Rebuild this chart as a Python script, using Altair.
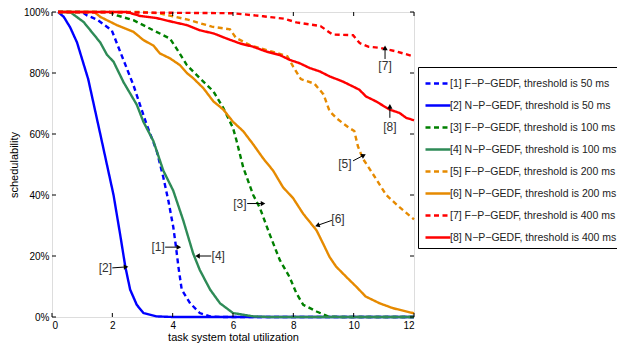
import math
import altair as alt
import pandas as pd

# ---------------- data ----------------
labels = [
    "[1] F\u2212P\u2212GEDF, threshold is 50 ms",
    "[2] N\u2212P\u2212GEDF, threshold is 50 ms",
    "[3] F\u2212P\u2212GEDF, threshold is 100 ms",
    "[4] N\u2212P\u2212GEDF, threshold is 100 ms",
    "[5] F\u2212P\u2212GEDF, threshold is 200 ms",
    "[6] N\u2212P\u2212GEDF, threshold is 200 ms",
    "[7] F\u2212P\u2212GEDF, threshold is 400 ms",
    "[8] N\u2212P\u2212GEDF, threshold is 400 ms",
]
colors = ["#0000FF", "#0000FF", "#008000", "#2E8B57", "#E68A00", "#E68A00", "#FF0000", "#FF0000"]
dashes = [[5, 3.5], [1, 0], [5, 3.5], [1, 0], [5, 3.5], [1, 0], [5, 3.5], [1, 0]]

s1_x = [0.2, 1.0, 1.16, 1.5, 1.98, 2.26, 2.7, 3.14, 3.47, 3.69, 3.86, 4.02, 4.11, 4.19, 4.3, 4.58, 4.9, 5.24, 5.6, 12]
s1_y = [100, 100, 98.9, 97.5, 94, 87, 76, 63, 54.5, 45.8, 38, 29.5, 23, 16.5, 9, 4.5, 1.3, 0.2, 0, 0]

s2_x = [0.2, 0.39, 0.6, 0.83, 1.2, 1.6, 2.04, 2.26, 2.43, 2.59, 2.81, 3.03, 3.47, 4.0, 12]
s2_y = [100, 98.4, 95, 90, 78, 60, 40, 27, 16.5, 9, 4, 1.3, 0.2, 0, 0]

s3_x = [0.2, 1.9, 2.15, 2.7, 3.36, 3.91, 4.13, 4.47, 4.9, 5.35, 5.68, 6.0, 6.12, 6.34, 6.67, 6.89, 7.22, 7.55, 7.88, 8.1, 8.33, 8.77, 9.15, 9.5, 12]
s3_y = [100, 100, 98.9, 97.3, 94, 91.3, 88, 82.6, 78.3, 74, 68.5, 62, 57.7, 49, 40, 35.8, 27, 18.7, 13, 7.8, 4, 1.8, 0.2, 0, 0]

s4_x = [0.2, 0.6, 1.05, 1.6, 1.82, 2.04, 2.37, 2.81, 3.03, 3.36, 3.69, 4.02, 4.35, 4.68, 4.9, 5.24, 5.57, 6.0, 6.67, 7.2, 12]
s4_y = [100, 100, 96.7, 90, 86, 83.7, 77, 69.6, 64, 57.7, 48, 41.4, 31.7, 20.8, 15.4, 9, 4.5, 1.3, 0.2, 0, 0]

s5_x = [0.2, 3.0, 3.6, 4.5, 5.3, 5.9, 6.1, 6.6, 7.3, 7.8, 8.0, 8.25, 8.7, 9.0, 9.2, 9.45, 9.85, 10.02, 10.14, 10.3, 10.63, 11.08, 11.52, 12]
s5_y = [100, 100, 99.5, 97.5, 95.2, 94.3, 91.5, 89, 87, 85.5, 82, 78, 76.5, 73, 67.5, 65, 62, 61, 56, 52, 47, 40, 36, 32]

s6_x = [0.2, 1.4, 1.6, 2.15, 2.7, 3.03, 3.36, 3.58, 3.91, 4.24, 4.47, 4.68, 5.02, 5.35, 5.68, 6.0, 6.34, 6.67, 7.0, 7.33, 7.66, 7.99, 8.33, 8.77, 8.99, 9.2, 9.42, 9.75, 10.08, 10.4, 10.86, 11.3, 12]
s6_y = [100, 100, 98.4, 95.7, 93.5, 90.8, 89, 86.4, 84.8, 82.6, 80, 78.3, 75, 70.7, 68, 64, 60.9, 56.6, 52, 48, 42.5, 39, 33.8, 28.4, 24, 19.7, 16.5, 13.2, 10, 6.7, 4.5, 2.9, 1.2]

s7_x = [0.2, 6.0, 7.0, 7.7, 8.1, 8.9, 9.3, 9.98, 10.2, 10.5, 10.9, 11.4, 12]
s7_y = [100, 99.6, 98.6, 97.8, 96.6, 95.4, 92.6, 92.4, 89.8, 88.6, 88.2, 87.1, 85.4]

s8_x = [0.2, 2.48, 2.92, 3.47, 4.02, 4.47, 4.9, 5.35, 5.79, 6.23, 6.67, 7.11, 7.55, 7.88, 8.21, 8.55, 8.88, 9.2, 9.64, 9.97, 10.19, 10.41, 10.74, 11.19, 11.52, 11.74, 12]
s8_y = [100, 100, 98.7, 98, 96.7, 95.7, 94, 93, 91.3, 89.7, 88.6, 87, 85.9, 84.3, 83.2, 81.6, 80.5, 78.9, 77.2, 75.6, 74.5, 72.3, 70.7, 68, 66.9, 65.3, 64.5]

x_ticks = [0, 2, 4, 6, 8, 10, 12]
y_ticks = [0, 20, 40, 60, 80, 100]

# annotations: label, text position, arrow tail, arrow head
ann_text = ["[7]", "[8]", "[5]", "[6]", "[3]", "[1]", "[4]", "[2]"]
ann_tx = [11.04, 11.2, 9.71, 9.48, 6.23, 3.52, 5.51, 1.77]
ann_ty = [82.2, 62.3, 50.2, 32.0, 37.2, 22.9, 20.0, 16.1]
arr_x1 = [11.04, 11.2, 9.98, 9.28, 6.47, 3.75, 5.28, 2.0]
arr_y1 = [84.6, 65.3, 51.2, 31.7, 37.2, 22.9, 20.0, 16.1]
arr_x2 = [11.04, 11.2, 10.31, 8.82, 6.97, 4.18, 4.85, 2.43]
arr_y2 = [88.0, 68.8, 52.9, 30.1, 37.2, 22.9, 20.0, 16.4]

# ---------------- layout ----------------
W, H = 362, 305

rows = []
for i, (xs, ys) in enumerate([(s1_x, s1_y), (s2_x, s2_y), (s3_x, s3_y), (s4_x, s4_y),
                              (s5_x, s5_y), (s6_x, s6_y), (s7_x, s7_y), (s8_x, s8_y)]):
    for k, (a, b) in enumerate(zip(xs, ys)):
        rows.append({"series": labels[i], "x": a, "y": b, "k": k})
df = pd.DataFrame(rows)

ppx, ppy = W / 12.0, H / 100.0
ann_rows = []
for t, tx, ty, x1, y1, x2, y2 in zip(ann_text, ann_tx, ann_ty, arr_x1, arr_y1, arr_x2, arr_y2):
    dx = (x2 - x1) * ppx
    dy = -(y2 - y1) * ppy
    ang = math.degrees(math.atan2(dx, -dy)) % 360
    ann_rows.append({"t": t, "tx": tx, "ty": ty, "x1": x1, "y1": y1, "x2": x2, "y2": y2, "ang": ang})
ann = pd.DataFrame(ann_rows)

xscale = alt.Scale(domain=[0, 12], nice=False, zero=False)
yscale = alt.Scale(domain=[0, 100], nice=False)

legend = alt.Legend(
    title=None, orient="none", legendX=366, legendY=55,
    strokeColor="black", fillColor="white", padding=5,
    symbolType="M-0.9,0H1.6", symbolSize=400, symbolStrokeWidth=2.5,
    labelFontSize=10.5, labelFont="Liberation Sans", labelColor="#222",
    rowPadding=5.0, labelOffset=4, labelLimit=400,
)

lines = alt.Chart(df).mark_line(strokeWidth=2.4, clip=False).encode(
    x=alt.X("x:Q", scale=xscale,
            axis=alt.Axis(values=x_ticks, title="task system total utilization",
                          grid=False, ticks=False, domain=False, labelPadding=3,
                          titlePadding=1, titleFontWeight="normal")),
    y=alt.Y("y:Q", scale=yscale,
            axis=alt.Axis(values=y_ticks, title="schedulability", labelExpr="datum.value + '%'",
                          grid=False, ticks=False, domain=False, labelPadding=3,
                          titlePadding=4, titleFontWeight="normal")),
    color=alt.Color("series:N", scale=alt.Scale(domain=labels, range=colors), legend=legend, sort=labels),
    strokeDash=alt.StrokeDash("series:N", scale=alt.Scale(domain=labels, range=dashes), legend=legend, sort=labels),
    order=alt.Order("k:Q"),
)

xt = pd.DataFrame({"v": x_ticks})
yt = pd.DataFrame({"v": y_ticks})
tick_len = 4
xt_bot = alt.Chart(xt).mark_rule(color="black", strokeWidth=1).encode(
    x=alt.X("v:Q"), y=alt.value(H), y2=alt.value(H - tick_len))
xt_top = alt.Chart(xt).mark_rule(color="black", strokeWidth=1).encode(
    x=alt.X("v:Q"), y=alt.value(0), y2=alt.value(tick_len))
yt_l = alt.Chart(yt).mark_rule(color="black", strokeWidth=1).encode(
    y=alt.Y("v:Q"), x=alt.value(0), x2=alt.value(tick_len))
yt_r = alt.Chart(yt).mark_rule(color="black", strokeWidth=1).encode(
    y=alt.Y("v:Q"), x=alt.value(W), x2=alt.value(W - tick_len))

ann_txt = alt.Chart(ann).mark_text(fontSize=12, color="#333", font="Liberation Sans").encode(
    x=alt.X("tx:Q"), y=alt.Y("ty:Q"), text="t:N")
ann_line = alt.Chart(ann).mark_rule(color="black", strokeWidth=1).encode(
    x=alt.X("x1:Q"), y=alt.Y("y1:Q"), x2="x2:Q", y2="y2:Q")
ann_head = alt.Chart(ann).mark_point(shape="triangle", filled=True, size=28, color="black", opacity=1).encode(
    x=alt.X("x2:Q"), y=alt.Y("y2:Q"), angle=alt.Angle("ang:Q", scale=None))

chart = alt.layer(lines, xt_bot, xt_top, yt_l, yt_r, ann_line, ann_head, ann_txt).properties(
    width=W, height=H,
    autosize=alt.AutoSizeParams(type="none"),
    padding={"left": 44, "top": 4, "right": 203, "bottom": 32},
).configure_view(stroke="black", strokeWidth=1).configure_axis(
    labelFont="Liberation Sans", titleFont="Liberation Sans", labelFontSize=11, titleFontSize=11,
    labelColor="#222", titleColor="#222", titleFontWeight="normal",
).configure(background="white")

chart.save("out.html", embed_options={"renderer": "svg", "actions": False})
